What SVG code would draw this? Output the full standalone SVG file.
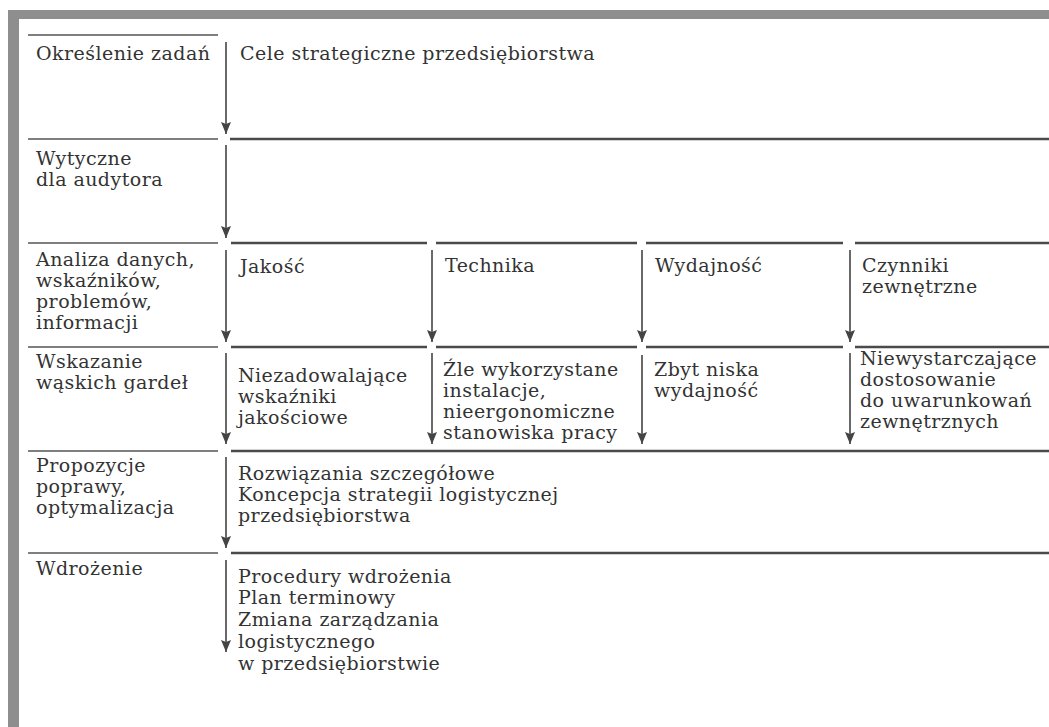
<svg xmlns="http://www.w3.org/2000/svg" width="1049" height="727" viewBox="0 0 1049 727">
<style>
.t{font-family:"DejaVu Serif","Liberation Serif",serif;font-size:19px;letter-spacing:0.45px;fill:#333}
.hl{stroke:#555;stroke-width:1.6;fill:none}
.hr{stroke:#4a4a4a;stroke-width:2.4;fill:none}
.ar{stroke:#444;stroke-width:1.6;fill:none;marker-end:url(#ah)}
</style>
<defs>
<marker id="ah" viewBox="0 0 12 10" refX="12" refY="5" markerWidth="12" markerHeight="10" markerUnits="userSpaceOnUse" orient="auto">
<path d="M0,0 L12,5 L0,10 L2,5 z" fill="#444"/>
</marker>
</defs>
<rect x="0" y="0" width="1049" height="727" fill="#fff"/>
<g id="frame">
<rect x="8" y="10" width="1041" height="9" fill="#8e8e8e"/>
<rect x="8" y="10" width="11" height="717" fill="#8e8e8e"/>
</g>
<g id="grid">
<line class="hl" x1="28" y1="35" x2="218" y2="35"/>
<line class="hl" x1="28" y1="139" x2="218" y2="139"/>
<line class="hr" x1="230" y1="139" x2="1049" y2="139"/>
<line class="hl" x1="28" y1="243" x2="218" y2="243"/>
<line class="hr" x1="231" y1="243" x2="427" y2="243"/>
<line class="hr" x1="436" y1="243" x2="637" y2="243"/>
<line class="hr" x1="646" y1="243" x2="843" y2="243"/>
<line class="hr" x1="855" y1="243" x2="1049" y2="243"/>
<line class="hl" x1="28" y1="347" x2="218" y2="347"/>
<line class="hr" x1="231" y1="347" x2="427" y2="347"/>
<line class="hr" x1="436" y1="347" x2="637" y2="347"/>
<line class="hr" x1="646" y1="347" x2="843" y2="347"/>
<line class="hr" x1="855" y1="347" x2="1049" y2="347"/>
<line class="hl" x1="28" y1="451" x2="218" y2="451"/>
<line class="hr" x1="231" y1="451" x2="1049" y2="451"/>
<line class="hl" x1="28" y1="553" x2="218" y2="553"/>
<line class="hr" x1="231" y1="553" x2="1049" y2="553"/>
</g>
<g id="connectors">
<line class="ar" x1="226" y1="42" x2="226" y2="134"/>
<line class="ar" x1="226" y1="145" x2="226" y2="238"/>
<line class="ar" x1="226" y1="250" x2="226" y2="342"/>
<line class="ar" x1="432" y1="250" x2="432" y2="342"/>
<line class="ar" x1="642" y1="250" x2="642" y2="342"/>
<line class="ar" x1="850" y1="250" x2="850" y2="342"/>
<line class="ar" x1="226" y1="353" x2="226" y2="444"/>
<line class="ar" x1="432" y1="353" x2="432" y2="444"/>
<line class="ar" x1="642" y1="355" x2="642" y2="444"/>
<line class="ar" x1="850" y1="353" x2="850" y2="444"/>
<line class="ar" x1="226" y1="457" x2="226" y2="548"/>
<line class="ar" x1="226" y1="560" x2="226" y2="652"/>
</g>
<g id="label-okreslenie"><text class="t" x="36" y="60">Określenie zadań</text></g>
<g id="cele"><text class="t" x="240" y="60">Cele strategiczne przedsiębiorstwa</text></g>
<g id="label-wytyczne"><text class="t" x="36" y="165">Wytyczne</text><text class="t" x="36" y="186">dla audytora</text></g>
<g id="label-analiza"><text class="t" x="36" y="266">Analiza danych,</text><text class="t" x="36" y="287">wskaźników,</text><text class="t" x="36" y="308">problemów,</text><text class="t" x="36" y="329">informacji</text></g>
<g id="jakosc"><text class="t" x="240" y="273">Jakość</text></g>
<g id="technika"><text class="t" x="445" y="272">Technika</text></g>
<g id="wydajnosc"><text class="t" x="655" y="272">Wydajność</text></g>
<g id="czynniki"><text class="t" x="862" y="272">Czynniki</text><text class="t" x="862" y="293">zewnętrzne</text></g>
<g id="label-wskazanie"><text class="t" x="36" y="368">Wskazanie</text><text class="t" x="36" y="389">wąskich gardeł</text></g>
<g id="niezadowalajace"><text class="t" x="238" y="382">Niezadowalające</text><text class="t" x="238" y="403">wskaźniki</text><text class="t" x="238" y="424">jakościowe</text></g>
<g id="zle"><text class="t" x="443" y="376">Źle wykorzystane</text><text class="t" x="443" y="397">instalacje,</text><text class="t" x="443" y="418">nieergonomiczne</text><text class="t" x="443" y="439">stanowiska pracy</text></g>
<g id="zbyt"><text class="t" x="654" y="376">Zbyt niska</text><text class="t" x="654" y="397">wydajność</text></g>
<g id="niewystarczajace"><text class="t" x="860" y="365">Niewystarczające</text><text class="t" x="860" y="386">dostosowanie</text><text class="t" x="860" y="407">do uwarunkowań</text><text class="t" x="860" y="428">zewnętrznych</text></g>
<g id="label-propozycje"><text class="t" x="36" y="472">Propozycje</text><text class="t" x="36" y="493">poprawy,</text><text class="t" x="36" y="514">optymalizacja</text></g>
<g id="rozwiazania"><text class="t" x="238" y="480">Rozwiązania szczegółowe</text><text class="t" x="238" y="501">Koncepcja strategii logistycznej</text><text class="t" x="238" y="522">przedsiębiorstwa</text></g>
<g id="label-wdrozenie"><text class="t" x="36" y="575">Wdrożenie</text></g>
<g id="procedury"><text class="t" x="238" y="583">Procedury wdrożenia</text><text class="t" x="238" y="604">Plan terminowy</text><text class="t" x="238" y="626">Zmiana zarządzania</text><text class="t" x="238" y="648">logistycznego</text><text class="t" x="238" y="670">w przedsiębiorstwie</text></g>
</svg>
